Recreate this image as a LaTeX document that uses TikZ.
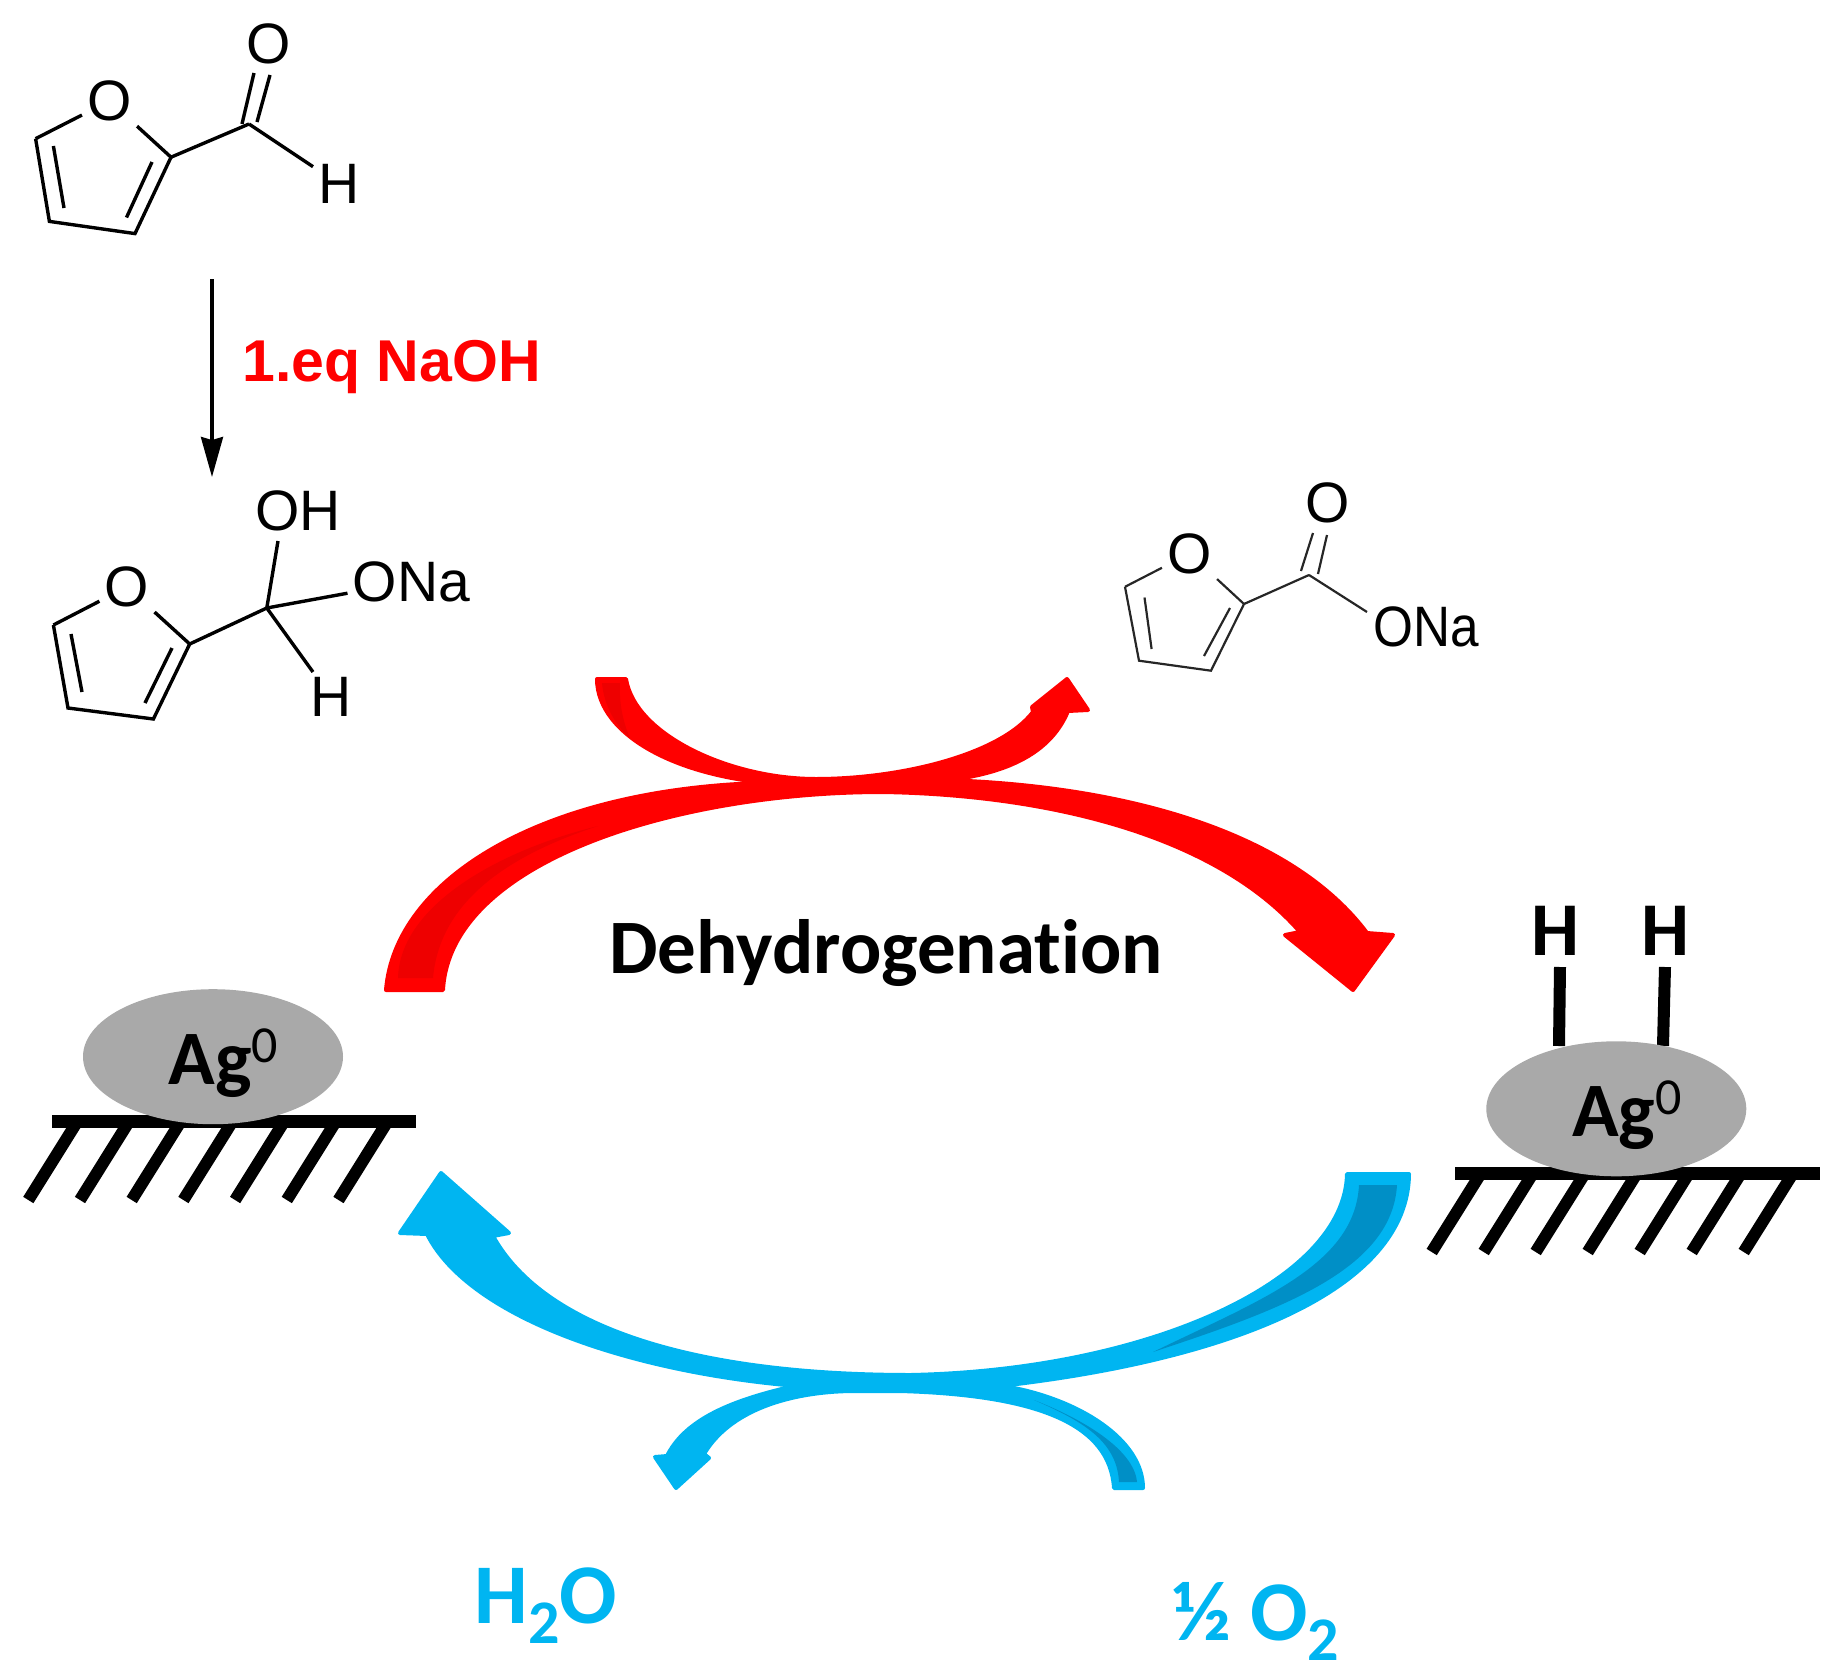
\documentclass[tikz,border=0pt]{standalone}
\usepackage{fontspec}
\setmainfont{Liberation Sans}
\newfontfamily\calfont[Ligatures=NoCommon]{Carlito}
\usetikzlibrary{arrows.meta,shapes.geometric}
\definecolor{cyclered}{HTML}{FF0000}
\definecolor{shadered}{HTML}{EE0000}
\definecolor{cycleblue}{HTML}{00B5F1}
\definecolor{shadeblue}{HTML}{008FC6}
\definecolor{metalgrey}{HTML}{A9A9A9}
\tikzset{
  atomlabel/.style={inner sep=2.5pt,font=\fontsize{28.5pt}{28.5pt}\selectfont},
  bond/.style={line width=1.7pt},
  thinbond/.style={line width=1.1pt,draw=black!85},
  redband/.style={fill=cyclered,draw=cyclered,line width=2pt,line join=round},
  blueband/.style={fill=cycleblue,draw=cycleblue,line width=2pt,line join=round},
  particle/.style={ellipse,fill=metalgrey,minimum width=130pt,minimum height=67.5pt,inner sep=0pt},
  plate/.style={line width=6.5pt},
  hatch/.style={line width=6pt},
  hbond/.style={line width=6pt},
  boldtext/.style={inner sep=0pt,anchor=base west}
}
\newcommand{\agtext}{{\calfont\bfseries\fontsize{38.5pt}{38.5pt}\selectfont Ag\raisebox{11pt}{\mdseries\fontsize{26pt}{26pt}\selectfont 0}}}
\begin{document}
\begin{tikzpicture}[x=0.5pt,y=-0.5pt]
  \useasboundingbox (0,0) rectangle (1833,1670);
  \draw
    (109.5,101) node[atomlabel] (ao){O}
    (35.6,138.7) coordinate (a5)
    (49.4,221.4) coordinate (a4)
    (135,233.6) coordinate (a3)
    (171,157.2) coordinate (a2)
    (249,124) coordinate (ac)
    (269,44) node[atomlabel] (ao2){O}
    (339,184) node[atomlabel] (ah){H}
    (242,124) coordinate (ad1) (254,73) coordinate (ad2)
    (257,122) coordinate (ad3) (270,75) coordinate (ad4)
    (53.4,146) coordinate (ai1) (64,208) coordinate (ai2)
    (152,162) coordinate (ai3) (126.5,217.5) coordinate (ai4);
  \begin{scope}[bond]
    \draw[line join=round] (ao) to (a5);
    \draw (a5) -- (a4) -- (a3) -- (a2);
    \draw (a2) to (ao);
    \draw (a2) to (ac);
    \draw (ac) to (ah);
    \draw (ad1) to (ad2);
    \draw (ad3) to (ad4);
    \draw (ai1) to (ai2);
    \draw (ai3) to (ai4);
  \end{scope}
  \draw
    (212,279) coordinate (stepa)
    (212,477) coordinate (stepb)
    (242,381) node[boldtext,text=cyclered,font=\bfseries\fontsize{29.5pt}{29.5pt}\selectfont] (naoh){1.eq NaOH};
  \draw[line width=1.6pt,-{Stealth[length=20pt,width=11pt,inset=1.5pt]}] (stepa) to (stepb);
  \draw
    (127,587) node[atomlabel] (bo){O}
    (53.4,625) coordinate (b5)
    (68,708) coordinate (b4)
    (153.4,719) coordinate (b3)
    (189.7,644) coordinate (b2)
    (266.8,608) coordinate (bc)
    (298,511) node[atomlabel] (boh){OH}
    (278,541) coordinate (bohend)
    (411.5,581.5) node[atomlabel] (bona){ONa}
    (331,697) node[atomlabel] (bh){H}
    (71,634) coordinate (bi1) (82,692) coordinate (bi2)
    (172,648) coordinate (bi3) (145,703) coordinate (bi4);
  \begin{scope}[bond]
    \draw (bo) to (b5);
    \draw (b5) -- (b4) -- (b3) -- (b2);
    \draw (b2) to (bo);
    \draw (b2) to (bc);
    \draw (bc) to (bohend);
    \draw (bc) to (bona);
    \draw (bc) to (bh);
    \draw (bi1) to (bi2);
    \draw (bi3) to (bi4);
  \end{scope}
  \draw
    (1189.5,553.6) node[atomlabel] (co){O}
    (1125,586.8) coordinate (c5)
    (1139,660.7) coordinate (c4)
    (1211,670.7) coordinate (c3)
    (1244,604) coordinate (c2)
    (1309,575) coordinate (cc)
    (1328,503) node[atomlabel] (co2){O}
    (1426,627) node[atomlabel] (cona){\scalebox{0.9}[1]{ONa}}
    (1367,612) coordinate (conaend)
    (1301,571) coordinate (cd1) (1313,533) coordinate (cd2)
    (1318,574) coordinate (cd3) (1327,535) coordinate (cd4)
    (1144.5,597.5) coordinate (ci1) (1151.6,649) coordinate (ci2)
    (1230,608) coordinate (ci3) (1204,656) coordinate (ci4);
  \begin{scope}[thinbond]
    \draw (co) to (c5);
    \draw (c5) -- (c4) -- (c3) -- (c2);
    \draw (c2) to (co);
    \draw (c2) to (cc);
    \draw (cc) to (conaend);
    \draw (cd1) to (cd2);
    \draw (cd3) to (cd4);
    \draw (ci1) to (ci2);
    \draw (ci3) to (ci4);
  \end{scope}
  \filldraw[redband] (597,679) -- (626,679) .. controls (635,735) and (730,779) .. (816,779)
    .. controls (900,779) and (1000,755) .. (1033,712) -- (1032,707) -- (1067,679) -- (1088,710) -- (1068,711)
    .. controls (1050,755) and (1000,782) .. (900,783) -- (800,785) .. controls (680,782) and (597,735) .. (597,679) -- cycle;
  \fill[shadered] (602,683) .. controls (604,705) and (615,725) .. (630,738) .. controls (622,720) and (619,700) .. (620,683) -- cycle;
  \filldraw[redband] (386,990) .. controls (395,880) and (540,790) .. (760,783) -- (942,780)
    .. controls (1120,785) and (1290,830) .. (1367,933) -- (1393,935) -- (1353,990) -- (1285,935) -- (1300,932)
    .. controls (1220,840) and (1060,795) .. (883,792) .. controls (680,792) and (450,860) .. (443,990) -- cycle;
  \fill[shadered] (398,978) .. controls (400,905) and (500,850) .. (598,826) .. controls (510,855) and (440,900) .. (433,978) -- cycle;
  \node[boldtext,font=\calfont\bfseries\fontsize{38.5pt}{38.5pt}\selectfont] (dehyd) at (609,973) {Dehydrogenation};
  \filldraw[blueband] (1347,1174) -- (1409,1174) .. controls (1408,1290) and (1230,1360) .. (1000,1386) -- (810,1387)
    .. controls (640,1375) and (470,1320) .. (427,1234) -- (400,1233) -- (441,1173) -- (509,1233) -- (493,1236)
    .. controls (545,1330) and (700,1375) .. (911,1375) .. controls (1150,1370) and (1345,1280) .. (1347,1174) -- cycle;
  \fill[shadeblue] (1359,1185) -- (1397,1185) .. controls (1392,1270) and (1280,1310) .. (1153,1352) .. controls (1260,1300) and (1355,1265) .. (1359,1185) -- cycle;
  \filldraw[blueband] (1114,1488) -- (1143,1488) .. controls (1143,1440) and (1080,1400) .. (1009,1387) -- (799,1385)
    .. controls (730,1400) and (685,1420) .. (667,1456) -- (655,1457) -- (676,1488) -- (709,1458) -- (704,1454)
    .. controls (730,1410) and (790,1392) .. (851,1391) -- (900,1391) .. controls (1040,1395) and (1110,1425) .. (1114,1488) -- cycle;
  \fill[shadeblue] (1119,1482) -- (1137,1482) .. controls (1134,1450) and (1085,1420) .. (1034,1400) .. controls (1080,1420) and (1117,1440) .. (1119,1482) -- cycle;
  \node[boldtext,text=cycleblue,font=\calfont\bfseries\fontsize{42.5pt}{42.5pt}\selectfont] (water) at (474,1623)
    {H\raisebox{-10pt}{\fontsize{31pt}{31pt}\selectfont 2}O};
  \node[boldtext,text=cycleblue,font=\calfont\bfseries\fontsize{42.5pt}{42.5pt}\selectfont] (oxygen) at (1172,1640)
    {½ O\raisebox{-10pt}{\fontsize{31pt}{31pt}\selectfont 2}};
  \foreach \i in {0,...,6} {
    \coordinate (lt\i) at (77+51.7*\i,1122);
    \coordinate (lb\i) at (28.3+51.7*\i,1200);
    \draw[hatch] (lt\i) to (lb\i);
    \coordinate (rt\i) at (1480.5+52*\i,1174);
    \coordinate (rb\i) at (1431.7+52*\i,1252);
    \draw[hatch] (rt\i) to (rb\i);
  }
  \coordinate (lplatea) at (52,1121.5);
  \coordinate (lplateb) at (416,1121.5);
  \coordinate (rplatea) at (1455,1173.5);
  \coordinate (rplateb) at (1820,1173.5);
  \draw[plate] (lplatea) to (lplateb);
  \draw[plate] (rplatea) to (rplateb);
  \draw
    (1555,955) node[boldtext,anchor=base,font=\calfont\bfseries\fontsize{38pt}{38pt}\selectfont] (ha){H}
    (1665,955) node[boldtext,anchor=base,font=\calfont\bfseries\fontsize{38pt}{38pt}\selectfont] (hb){H}
    (1560,967) coordinate (hat)
    (1665,967) coordinate (hbt)
    (1559,1046) coordinate (hab)
    (1663,1046) coordinate (hbb);
  \draw[hbond] (hat) to (hab);
  \draw[hbond] (hbt) to (hbb);
  \node[particle] (agleft) at (213,1056.7) {};
  \node[particle] (agright) at (1616.3,1108.8) {};
  \node[boldtext] (agltext) at (168,1084) {\agtext};
  \node[boldtext] (agrtext) at (1571.7,1136) {\agtext};
\end{tikzpicture}
\end{document}
